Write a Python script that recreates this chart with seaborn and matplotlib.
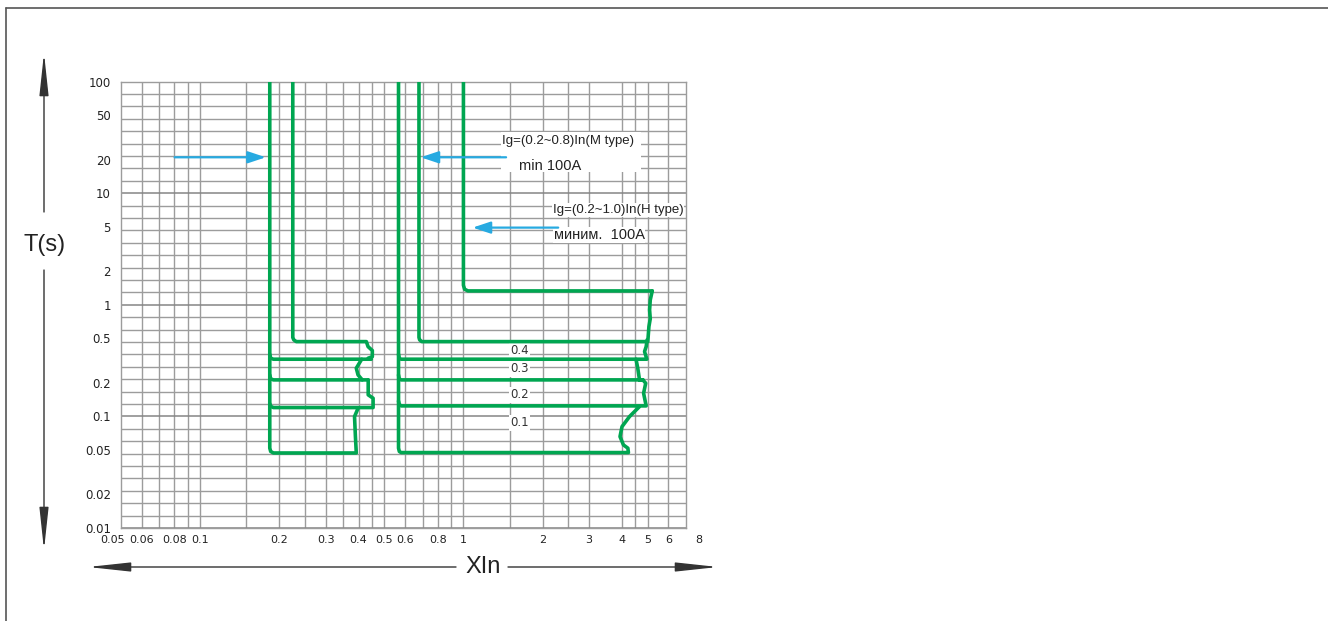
import numpy as np
import seaborn as sns
import matplotlib.pyplot as plt
from matplotlib.patches import Rectangle, FancyArrowPatch
from matplotlib.lines import Line2D
from matplotlib.transforms import ScaledTranslation

sns.set_theme(style="white")
plt.rcParams['font.family'] = ['DejaVu Sans']

# tick labels
x_ticks = [0.05, 0.06, 0.08, 0.1, 0.2, 0.3, 0.4, 0.5, 0.6, 0.8, 1, 2, 3, 4, 5, 6]
x_ticklabels = ['0.05', '0.06', '0.08', '0.1', '0.2', '0.3', '0.4', '0.5',
                '0.6', '0.8', '1', '2', '3', '4', '5', '6']
y_ticks = [100, 50, 20, 10, 5, 2, 1, 0.5, 0.2, 0.1, 0.05, 0.02, 0.01]
y_ticklabels = ['100', '50', '20', '10', '5', '2', '1', '0.5', '0.2', '0.1',
                '0.05', '0.02', '0.01']
x_grid = [0.06, 0.07, 0.08, 0.09, 0.1, 0.15, 0.2, 0.25, 0.3, 0.35, 0.4, 0.45,
          0.5, 0.6, 0.7, 0.8, 0.9, 1, 1.5, 2, 2.5, 3, 4, 4.5, 5, 6]

# curves: x = multiples of In, y = trip time (s)
# left group (M type)
l_outer_x = [0.184, 0.184, 0.1855, 0.19, 0.392, 0.389, 0.386, 0.398]
l_outer_y = [100, 0.052, 0.0485, 0.047, 0.047, 0.066, 0.0996, 0.118]
l_01_x = [0.184, 0.1855, 0.19, 0.454, 0.454, 0.435, 0.435]
l_01_y = [0.13, 0.123, 0.12, 0.12, 0.1455, 0.156, 0.2124]
l_02_x = [0.184, 0.1855, 0.19, 0.435]
l_02_y = [0.235, 0.217, 0.2124, 0.2124]
l_02e_x = [0.413, 0.398, 0.392, 0.411]
l_02e_y = [0.2124, 0.2355, 0.2704, 0.3255]
l_03_x = [0.184, 0.1855, 0.19, 0.447]
l_03_y = [0.36, 0.332, 0.3255, 0.3255]
l_inner_x = [0.225, 0.225, 0.227, 0.232, 0.428, 0.4345, 0.451, 0.451, 0.4345]
l_inner_y = [100, 0.51, 0.485, 0.468, 0.468, 0.422, 0.389, 0.343, 0.332]

# right group (H type)
r_outer_x = [0.567, 0.567, 0.571, 0.58, 4.23, 4.21, 4.05, 3.93, 4.00, 4.27, 4.66]
r_outer_y = [100, 0.052, 0.0485, 0.0474, 0.0474, 0.0519, 0.0555, 0.0659, 0.081, 0.0996, 0.1224]
r_01_x = [0.567, 0.571, 0.58, 4.94, 4.83, 4.92, 4.80]
r_01_y = [0.137, 0.128, 0.1242, 0.1242, 0.1613, 0.1983, 0.2124]
r_02_x = [0.567, 0.571, 0.58, 4.80, 4.66, 4.59, 4.52]
r_02_y = [0.235, 0.217, 0.2124, 0.2124, 0.2124, 0.2704, 0.3255]
r_03_x = [0.567, 0.571, 0.58, 4.97, 4.87, 4.94, 4.98]
r_03_y = [0.36, 0.332, 0.3255, 0.3255, 0.381, 0.422, 0.4847]
r_inner_x = [0.678, 0.678, 0.682, 0.695, 5.01, 5.06, 5.12, 5.09, 5.12, 5.21]
r_inner_y = [100, 0.51, 0.485, 0.468, 0.468, 0.638, 0.75, 0.9, 1.107, 1.332]
r_top_x = [1.0, 1.0, 1.01, 1.04, 5.21]
r_top_y = [100, 1.5, 1.38, 1.332, 1.332]

# delay-band labels
band_labels = ['0.4', '0.3', '0.2', '0.1']
band_label_t = [0.386, 0.2666, 0.1558, 0.0874]
band_label_x = 1.63

# blue pointer arrows
arrow_tail_x = [0.0801, 1.452, 2.29]
arrow_head_x = [0.1777, 0.688, 1.084]
arrow_t = [21.0, 21.0, 4.92]

green = '#00a651'
blue = '#27aae1'
gridc = '#9c9c9c'

fig = plt.figure(figsize=(13.28, 6.21), dpi=100)
ax = fig.add_axes([0.0909, 0.1498, 0.4257, 0.7187])
ax.set_xscale('log')
ax.set_yscale('log')
ax.set_xlim(0.05, 7)
ax.set_ylim(0.01, 100)

# grid (hand drawn style: 9 lines per decade on the T axis)
for v in x_grid:
    ax.axvline(v, color=gridc, lw=1.0, zorder=0.5)
for k, v in enumerate(10 ** np.linspace(-2, 2, 37)):
    dark = k % 9 == 0
    ax.axhline(v, color='#858585' if dark else gridc, lw=1.1 if dark else 1.0,
               zorder=0.5)
ax.minorticks_off()
ax.set_xticks(x_ticks, x_ticklabels)
ax.set_yticks(y_ticks, y_ticklabels)
ax.grid(False)
ax.tick_params(which='both', length=0)
ax.tick_params(axis='x', pad=5, labelsize=8, labelcolor='#222222')
ax.tick_params(axis='y', pad=7, labelsize=8.5, labelcolor='#222222')
lab0 = ax.get_xticklabels()[0]
lab0.set_transform(lab0.get_transform() + ScaledTranslation(-6 / 72, 0, fig.dpi_scale_trans))
for s in ax.spines.values():
    s.set_color(gridc)
    s.set_linewidth(1.0)
ax.annotate('8', xy=(8, 0), xycoords=('data', 'axes fraction'), xytext=(-2, -5),
            textcoords='offset points', ha='center', va='top', fontsize=8,
            color='#222222', annotation_clip=False)

# curves
curves = [(l_outer_x, l_outer_y), (l_01_x, l_01_y), (l_02_x, l_02_y),
          (l_02e_x, l_02e_y), (l_03_x, l_03_y), (l_inner_x, l_inner_y),
          (r_outer_x, r_outer_y), (r_01_x, r_01_y), (r_02_x, r_02_y),
          (r_03_x, r_03_y), (r_inner_x, r_inner_y), (r_top_x, r_top_y)]
for cx, cy in curves:
    sns.lineplot(x=cx, y=cy, sort=False, estimator=None, color=green,
                 linewidth=2.6, ax=ax, solid_joinstyle='round', zorder=3)

for lab, t in zip(band_labels, band_label_t):
    ax.text(band_label_x, t, lab, ha='center', va='center', fontsize=8.5,
            color='#333333', bbox=dict(fc='white', ec='none', pad=1.0), zorder=2)

# annotation boxes and texts
ax.add_patch(Rectangle((1.39, 15.5), 4.72 - 1.39, 35.4 - 15.5, fc='white',
                       ec='none', zorder=1))
ax.text(1.40, 29.4, 'Ig=(0.2~0.8)In(M type)', ha='left', va='center',
        fontsize=9.5, family=['Liberation Sans'], color='#222222', zorder=2)
ax.text(1.63, 17.6, 'min 100A', ha='left', va='center', fontsize=10.5,
        family=['Liberation Sans'], color='#222222', zorder=2)
ax.text(2.18, 7.09, 'Ig=(0.2~1.0)In(H type)', ha='left', va='center',
        fontsize=9.5, family=['Liberation Sans'], color='#222222', zorder=2,
        bbox=dict(fc='white', ec='none', pad=0.5))
ax.text(2.2, 4.23, 'миним.  100A', ha='left', va='center', fontsize=10.5,
        family=['Liberation Sans'], color='#222222', zorder=2,
        bbox=dict(fc='white', ec='none', pad=0.5))

for x0, x1, t in zip(arrow_tail_x, arrow_head_x, arrow_t):
    ax.annotate('', xy=(x1, t), xytext=(x0, t),
                arrowprops=dict(arrowstyle='-|>,head_length=0.9,head_width=0.3',
                                color=blue, lw=1.6, shrinkA=0, shrinkB=0),
                zorder=4)

# figure-level axis arrows and titles
W, H = 1328, 621


def fx(px):
    return px / W


def fy(py):
    return 1 - py / H


def big_arrow(p0, p1):
    fig.add_artist(FancyArrowPatch((fx(p0[0]), fy(p0[1])), (fx(p1[0]), fy(p1[1])),
                                   transform=fig.transFigure,
                                   arrowstyle='-|>,head_length=2.6,head_width=0.28',
                                   mutation_scale=10, color='#333333', lw=1.0,
                                   shrinkA=0, shrinkB=0))


big_arrow((44, 212), (44, 53))
big_arrow((44, 270), (44, 550))
big_arrow((456, 567), (88, 567))
big_arrow((508, 567), (718, 567))
fig.text(fx(45), fy(245), 'T(s)', ha='center', va='center', fontsize=17,
         family=['Liberation Sans'], color='#222222')
fig.text(fx(483), fy(567), 'XIn', ha='center', va='center', fontsize=17,
         family=['Liberation Sans'], color='#222222')

# outer frame (top and left)
fig.add_artist(Line2D([fx(6), 1], [fy(8), fy(8)], transform=fig.transFigure,
                      color='#555555', lw=1.2))
fig.add_artist(Line2D([fx(6), fx(6)], [fy(8), 0], transform=fig.transFigure,
                      color='#555555', lw=1.2))

plt.savefig('out.png', dpi=100)
